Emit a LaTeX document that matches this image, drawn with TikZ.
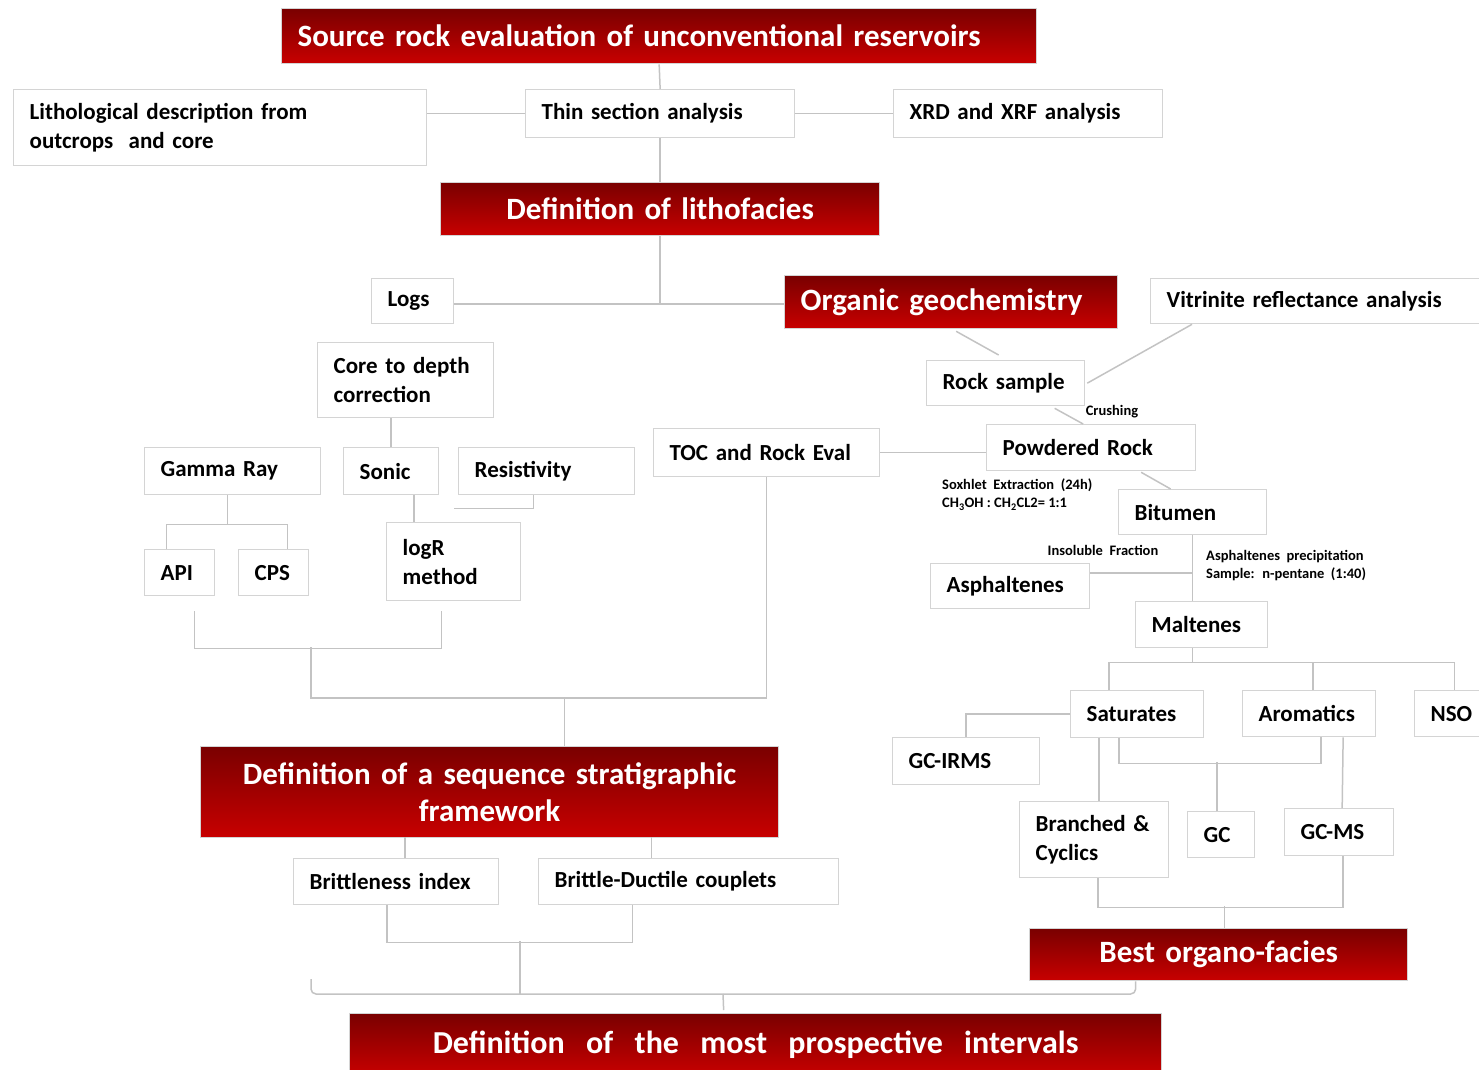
\documentclass[tikz,border=0pt]{standalone}
\usepackage{fontspec}
\setmainfont{Carlito}
\usetikzlibrary{calc}
\definecolor{dred}{RGB}{122,0,0}
\definecolor{lred}{RGB}{200,0,0}
\definecolor{lgray}{RGB}{195,195,195}
\definecolor{bgray}{RGB}{212,212,212}
\tikzset{
 box/.style={draw=bgray, line width=1.3pt, anchor=north west, inner xsep=16pt, inner ysep=0pt, align=left, font=\fontsize{23}{29}\selectfont\bfseries, text=black},
 redbox/.style={draw=bgray, line width=1.3pt, anchor=north west, top color=dred, bottom color=lred, text=white, inner xsep=16pt, inner ysep=0pt, font=\fontsize{31}{37}\selectfont\bfseries},
 conn/.style={draw=lgray, line width=1.5pt},
 lbl/.style={font=\fontsize{14.5}{18}\selectfont\bfseries, inner sep=0pt, align=left, text=black}
}
\begin{document}
\begin{tikzpicture}[x=1pt,y=-1pt]
\useasboundingbox (0,0) rectangle (1479,1069);
% nodes
\node[redbox, align=left, text width=723pt, minimum height=55pt] (title) at (281,8) {Source rock evaluation of unconventional reservoirs};
\node[box, text width=381pt, minimum height=76pt] (lith) at (13,89) {Lithological description from\\outcrops~ and core};
\node[box, text width=237pt, minimum height=48pt] (thin) at (525,89) {Thin section analysis};
\node[box, text width=237pt, minimum height=48pt] (xrd) at (893,89) {XRD and XRF analysis};
\node[redbox, align=center, text width=407pt, minimum height=53pt] (litho) at (440,182) {Definition of lithofacies};
\node[box, text width=50pt, minimum height=45pt] (logs) at (371,278) {Logs};
\node[redbox, align=left, text width=301pt, minimum height=53pt] (org) at (784,275) {Organic geochemistry};
\node[box, text width=297pt, minimum height=45pt] (vitr) at (1150,278) {Vitrinite reflectance analysis};
\node[box, text width=144pt, minimum height=75pt] (core) at (317,342) {Core to depth\\correction};
\node[box, text width=126pt, minimum height=45pt] (rock) at (926,360) {Rock sample};
\node[box, text width=144pt, minimum height=47pt] (gamma) at (144,447) {Gamma Ray};
\node[box, text width=63pt, minimum height=47pt] (sonic) at (343,447) {Sonic};
\node[box, text width=144pt, minimum height=47pt] (resist) at (458,447) {Resistivity};
\node[box, text width=194pt, minimum height=48pt] (toc) at (653,428) {TOC and Rock Eval};
\node[box, text width=177pt, minimum height=46pt] (powder) at (986,424) {Powdered Rock};
\node[box, text width=38pt, minimum height=46pt] (api) at (144,549) {API};
\node[box, text width=38pt, minimum height=46pt] (cps) at (238,549) {CPS};
\node[box, text width=102pt, minimum height=78pt] (logr) at (386,522) {logR\\method};
\node[box, text width=116pt, minimum height=45pt] (bitumen) at (1118,489) {Bitumen};
\node[box, text width=127pt, minimum height=45pt] (asph) at (930,563) {Asphaltenes};
\node[box, text width=100pt, minimum height=46pt] (malt) at (1135,601) {Maltenes};
\node[box, text width=101pt, minimum height=47pt] (sat) at (1070,690) {Saturates};
\node[box, text width=101pt, minimum height=46pt] (arom) at (1242,690) {Aromatics};
\node[box, text width=40pt, minimum height=46pt] (nso) at (1414,690) {NSO};
\node[box, text width=115pt, minimum height=47pt] (gcirms) at (892,737) {GC-IRMS};
\node[box, text width=117pt, minimum height=76pt] (branched) at (1019,801) {Branched \&\\Cyclics};
\node[box, text width=35pt, minimum height=46pt] (gc) at (1187,811) {GC};
\node[box, text width=77pt, minimum height=47pt] (gcms) at (1284,808) {GC-MS};
\node[redbox, align=center, text width=546pt, minimum height=91pt] (seq) at (200,746) {Definition of a sequence stratigraphic\\framework};
\node[box, text width=173pt, minimum height=46pt] (britt) at (293,858) {Brittleness index};
\node[box, text width=268pt, minimum height=46pt] (bd) at (538,858) {Brittle-Ductile couplets};
\node[redbox, align=center, text width=346pt, minimum height=52pt] (best) at (1029,928) {Best organo-facies};
\node[redbox, align=center, text width=780pt, minimum height=62pt, font=\fontsize{32}{37}\selectfont\bfseries] (prosp) at (349,1013) {Definition~ of~ the~ most~ prospective~ intervals};
% labels
\node[lbl, anchor=center] (crush) at (1112,412) {Crushing};
\node[lbl, anchor=north west] (soxh) at (942,479) {Soxhlet~ Extraction~ (24h)\\CH\textsubscript{3}OH : CH\textsubscript{2}CL2= 1:1};
\node[lbl, anchor=center] (insol) at (1103,550) {Insoluble~ Fraction};
\node[lbl, anchor=north west] (aprec) at (1206,550) {Asphaltenes~ precipitation\\Sample:~ n-pentane~ (1:40)};
% connectors
\draw[conn] (title.south) -- (thin.north);
\draw[conn] (thin.south) -- (litho.north);
\draw[conn] (thin.west) -- (thin.west -| lith.east);
\draw[conn] (thin.east) -- (xrd.west);
\draw[conn] ([yshift=-3pt]litho.south |- logs.east) -- (litho.south);
\draw[conn] ([yshift=-3pt]logs.east) -- ([yshift=-3pt]logs.east -| org.west);
\draw[conn] ([shift={(5pt,-2pt)}]org.south) -- ([shift={(-7pt,5pt)}]rock.north);
\draw[conn] ([xshift=42pt]vitr.south west) -- ([xshift=2pt]rock.east);
\draw[conn] ([shift={(49pt,-2pt)}]rock.south) -- ([xshift=-8pt]powder.north);
\draw[conn] ([shift={(50pt,-1pt)}]powder.south) -- ([xshift=-22pt]bitumen.north);
\draw[conn] (toc.east) -- (toc.east -| powder.west);
\draw[conn] (bitumen.south) -- (bitumen.south |- malt.north);
\draw[conn] ([yshift=13pt]asph.east) -- ([yshift=13pt]asph.east -| bitumen.south);
\draw[conn] (bitumen.south |- malt.south) -- ++(0,14) coordinate (mj);
\draw[conn] ([xshift=-28pt]sat.north) |- (mj) -| ([xshift=4pt]nso.north);
\draw[conn] ([xshift=4pt]arom.north) -- ([xshift=4pt]arom.north |- mj);
\draw[conn] (sat.west) -| (gcirms.north);
\draw[conn] ([xshift=-18pt]sat.south) -- ++(0,25) -| ([xshift=12pt]arom.south);
\draw[conn] ([xshift=-4pt]gc.north) -- ++(0,-49);
\draw[conn] ([xshift=-38pt]sat.south) -- ([xshift=-38pt]sat.south |- branched.north);
\draw[conn] ([xshift=34pt]arom.south) -- ([xshift=3pt]gcms.north);
\draw[conn] ([xshift=4pt]branched.south) -- ++(0,29) -| ([xshift=4pt]gcms.south);
\draw[conn] ([xshift=6pt]best.north) -- ++(0,-22);
\draw[conn] (sonic.north) -- (sonic.north |- core.south);
\draw[conn] ([xshift=-5pt]gamma.south) -- ++(0,29) coordinate (gj);
\draw[conn] ([xshift=-13pt]api.north) |- (gj) -| ([xshift=14pt]cps.north);
\draw[conn] ([xshift=23pt]sonic.south) -- ([xshift=23pt]sonic.south |- logr.north);
\draw[conn] ([xshift=-13pt]resist.south) -- ++(0,13) coordinate (rj) -- (rj -| logr.north) ;
\draw[conn] ([shift={(15pt,-15pt)}]api.south) -- ++(0,37) -| ([shift={(-12pt,-10pt)}]logr.south);
\coordinate (lj) at (311,647);
\draw[conn] (lj) -- (311,698) -| (toc.south);
\draw[conn] ([xshift=75pt]seq.north) -- ++(0,-48);
\draw[conn] ([xshift=9pt]britt.north) -- ++(0,-21);
\draw[conn] ([xshift=-37pt]bd.north) -- ++(0,-21);
\draw[conn] ([xshift=-9pt]britt.south) -- ++(0,37) -| ([xshift=-56pt]bd.south);
\draw[conn] (520,941) -- (520,994);
\coordinate (bt) at (723,994);
\draw[conn, rounded corners=5pt] (311,979) |- (bt);
\draw[conn, rounded corners=5pt] ([xshift=-83pt]best.south) |- (bt);
\draw[conn] (bt) -- ([xshift=-32pt,yshift=3pt]prosp.north);
\end{tikzpicture}
\end{document}
